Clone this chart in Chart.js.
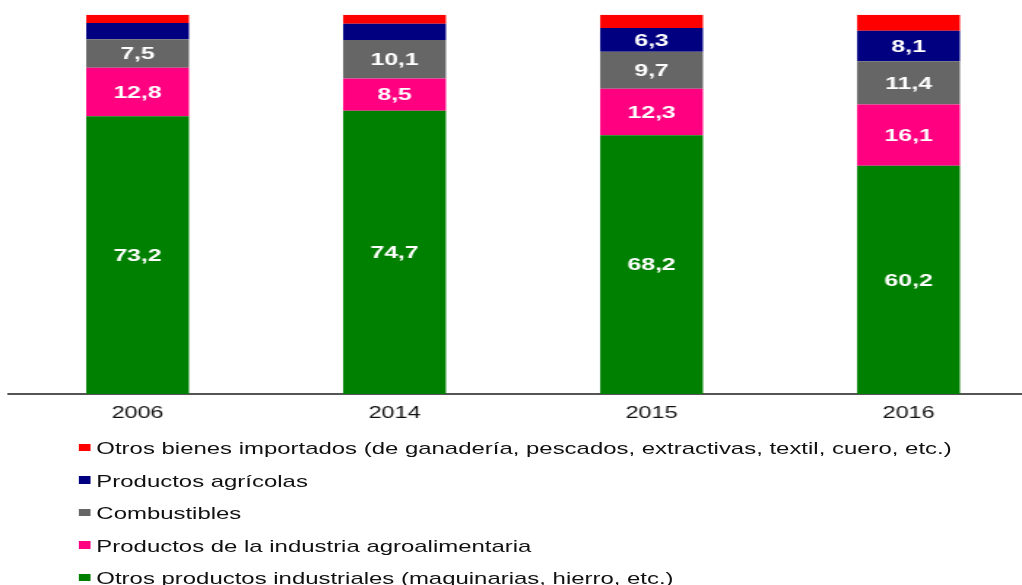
<!DOCTYPE html>
<html>
<head>
<meta charset="utf-8">
<script src="https://cdn.jsdelivr.net/npm/chart.js@4"></script>
<style>
  html, body { margin: 0; padding: 0; background: #fff; }
  #frame { position: relative; width: 1022px; height: 585px; overflow: hidden; }
  /* the source picture is stretched sideways, so draw narrow and stretch */
  #stretch { position: absolute; left: 0; top: 0; width: 712px; height: 585px; transform: scaleX(1.46); transform-origin: 0 0; }
  #chart { display: block; }
  #legend { position: absolute; left: 0; top: 0; width: 712px; height: 585px; font-family: "Liberation Sans", Arial, sans-serif; font-size: 16.4px; color: #111; }
  .item { position: absolute; left: 0; width: 712px; height: 20px; line-height: 20px; white-space: nowrap; }
  .item .box { position: absolute; left: 53.6px; top: 5.5px; width: 8.4px; height: 7.5px; }
  .item .txt { position: absolute; left: 66px; top: 0; }
</style>
</head>
<body>
<div id="frame">
  <div id="stretch">
    <canvas id="chart" width="712" height="585"></canvas>
    <div id="legend"></div>
  </div>
</div>
<script>
const years = ["2006", "2014", "2015", "2016"];
const seriesNames = [
    "Otros productos industriales (maquinarias, hierro, etc.)",
    "Productos de la industria agroalimentaria",
    "Combustibles",
    "Productos agrícolas",
    "Otros bienes importados (de ganadería, pescados, extractivas, textil, cuero, etc.)"
];
const industriales = [73.2, 74.7, 68.2, 60.2];
const agroalimentaria = [12.8, 8.5, 12.3, 16.1];
const combustibles = [7.5, 10.1, 9.7, 11.4];
const agricolas = [4.3, 4.3, 6.3, 8.1];
const otrosBienes = [2.2, 2.4, 3.5, 4.2];

const seriesValues = [industriales, agroalimentaria, combustibles, agricolas, otrosBienes];
const colors = ["#008000", "#FF0080", "#666666", "#000080", "#FF0000"];

const barLabels = {
    id: "barLabels",
    afterDatasetsDraw(chart) {
        const ctx = chart.ctx;
        ctx.save();
        ctx.font = "bold 17px 'Liberation Sans', Arial, sans-serif";
        ctx.fillStyle = "#ffffff";
        ctx.textAlign = "center";
        ctx.textBaseline = "middle";
        chart.data.datasets.forEach((ds, i) => {
            chart.getDatasetMeta(i).data.forEach((bar, j) => {
                const v = ds.data[j];
                if (v < 5) return;
                ctx.fillText(v.toFixed(1).replace(".", ","), bar.x, (bar.y + bar.base) / 2 + 1);
            });
        });
        ctx.restore();
    }
};

const chart = new Chart(document.getElementById("chart").getContext("2d"), {
    type: "bar",
    data: {
        labels: years,
        datasets: seriesValues.map((vals, i) => ({
            label: seriesNames[i],
            data: vals,
            backgroundColor: colors[i],
            borderWidth: 0,
            barPercentage: 0.4,
            categoryPercentage: 1
        }))
    },
    options: {
        responsive: false,
        animation: false,
        layout: { padding: { left: 6.2, right: 1.7, top: 14.7, bottom: 151 } },
        plugins: {
            legend: { display: false },
            tooltip: { enabled: false }
        },
        scales: {
            x: {
                stacked: true,
                afterFit(scale) { scale.height = 40; },
                grid: { display: false, drawTicks: false },
                border: { display: true, color: "#555555", width: 2 },
                ticks: {
                    padding: 10,
                    color: "#111",
                    font: { family: "'Liberation Sans', Arial, sans-serif", size: 16 }
                }
            },
            y: {
                stacked: true,
                display: false,
                min: 0,
                max: 100
            }
        }
    },
    plugins: [barLabels]
});

function buildLegend() {
    const box = document.getElementById("legend");
    const rows = chart.data.datasets.slice().reverse();
    rows.forEach((ds, k) => {
        const item = document.createElement("div");
        item.className = "item";
        item.style.top = (438 + k * 32.6) + "px";
        item.innerHTML = `<span class="box" style="background:${ds.backgroundColor}"></span><span class="txt">${ds.label}</span>`;
        box.appendChild(item);
    });
}

buildLegend();
</script>
</body>
</html>
